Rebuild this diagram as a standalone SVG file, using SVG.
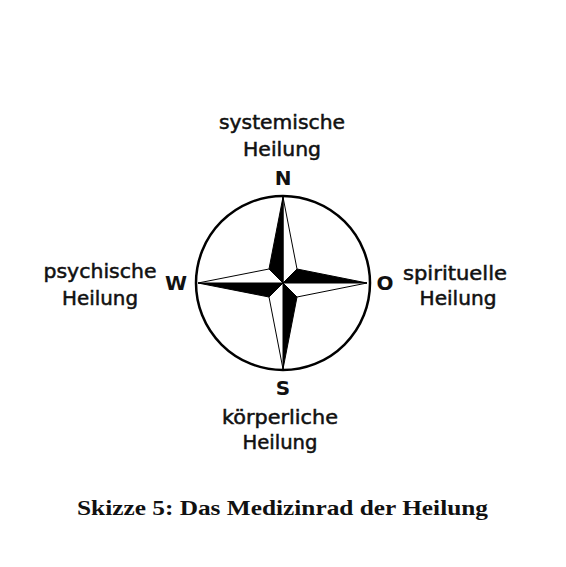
<svg xmlns="http://www.w3.org/2000/svg" width="566" height="567" viewBox="0 0 566 567">
<style>
.lbl{font-family:"DejaVu Sans","Liberation Sans",sans-serif;font-size:19px;fill:#111;stroke:#111;stroke-width:0.5;text-anchor:middle}
.dir{font-family:"DejaVu Sans","Liberation Sans",sans-serif;font-size:20px;font-weight:bold;fill:#111;text-anchor:middle}
.cap{font-family:"Liberation Serif","DejaVu Serif",serif;font-size:21px;font-weight:bold;fill:#111}
.blk{fill:#000;stroke:#000;stroke-width:1;stroke-linejoin:round}
.wht{fill:#fff;stroke:#000;stroke-width:1;stroke-linejoin:round}
</style>
<rect width="566" height="567" fill="#fff"/>
<g id="compass">
<circle cx="283" cy="283" r="87" fill="#fff" stroke="#000" stroke-width="2.5"/>
<polygon class="wht" points="283,197 297,269 283,283"/>
<polygon class="blk" points="283,197 269,269 283,283"/>
<polygon class="blk" points="367,283 297,269 283,283"/>
<polygon class="wht" points="367,283 297,297 283,283"/>
<polygon class="blk" points="283,369 297,297 283,283"/>
<polygon class="wht" points="283,369 269,297 283,283"/>
<polygon class="blk" points="198,283 269,297 283,283"/>
<polygon class="wht" points="198,283 269,269 283,283"/>
</g>
<g id="dir-N"><text class="dir" x="283" y="185">N</text></g>
<g id="dir-W"><text class="dir" x="176" y="290">W</text></g>
<g id="dir-O"><text class="dir" x="385" y="290">O</text></g>
<g id="dir-S"><text class="dir" x="283" y="395">S</text></g>
<g id="node-north">
<text class="lbl" x="282" y="129" textLength="126" lengthAdjust="spacingAndGlyphs">systemische</text>
<text class="lbl" x="282" y="156" textLength="78" lengthAdjust="spacingAndGlyphs">Heilung</text>
</g>
<g id="node-west">
<text class="lbl" x="100" y="278" textLength="113" lengthAdjust="spacingAndGlyphs">psychische</text>
<text class="lbl" x="100" y="305" textLength="76" lengthAdjust="spacingAndGlyphs">Heilung</text>
</g>
<g id="node-east">
<text class="lbl" x="455" y="280" textLength="104" lengthAdjust="spacingAndGlyphs">spirituelle</text>
<text class="lbl" x="458" y="305" textLength="77" lengthAdjust="spacingAndGlyphs">Heilung</text>
</g>
<g id="node-south">
<text class="lbl" x="280" y="424" textLength="116" lengthAdjust="spacingAndGlyphs">körperliche</text>
<text class="lbl" x="280" y="449" textLength="75" lengthAdjust="spacingAndGlyphs">Heilung</text>
</g>
<g id="connectors"></g>
<text class="cap" x="77" y="515" textLength="411" lengthAdjust="spacingAndGlyphs">Skizze 5: Das Medizinrad der Heilung</text>
</svg>
